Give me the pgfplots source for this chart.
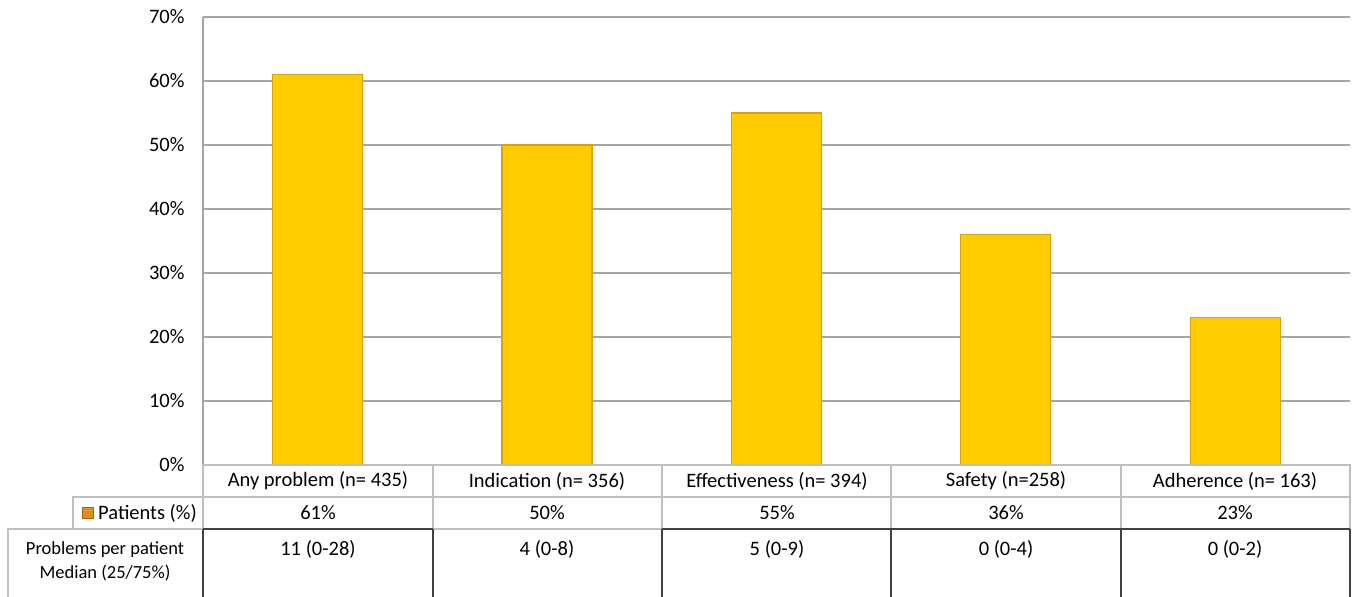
\documentclass[border=0pt]{standalone}
\usepackage{pgfplots}
\pgfplotsset{compat=1.18}
\usepackage{fontspec}
\setmainfont{Carlito}
\definecolor{barfill}{HTML}{FFCC00}
\definecolor{baredge}{HTML}{D9A400}
\definecolor{gridc}{HTML}{A6A6A6}
\definecolor{tabgray}{HTML}{BFBFBF}
\definecolor{tabdark}{HTML}{404040}
\definecolor{legsq}{HTML}{E0901E}
\begin{document}
\begin{tikzpicture}[x=1pt,y=1pt,font=\fontsize{20.5}{24}\selectfont]
\useasboundingbox (-203,-132) rectangle (1152,465);
\begin{axis}[
  at={(0,0)}, anchor=south west,
  scale only axis, width=1147pt, height=448pt,
  xmin=-0.5, xmax=4.5, ymin=0, ymax=70,
  axis x line*=bottom, x axis line style={draw=none}, xtick=\empty,
  axis y line*=left, y axis line style={draw=gridc, line width=1.2pt, -},
  ytick={0,10,...,70},
  yticklabel={\pgfmathprintnumber{\tick}\%},
  yticklabel style={font=\fontsize{20.5}{24}\selectfont, xshift=-15pt},
  /pgf/number format/assume math mode=true,
  major tick length=0pt,
  ymajorgrids, grid style={draw=gridc, line width=1.5pt},
  clip=false,
]
\addplot[ybar, bar width=90pt, fill=barfill, draw=baredge, line width=1.2pt]
  coordinates {(0,61) (1,50) (2,55) (3,36) (4,23)};
\end{axis}
% table lines
\begin{scope}[draw=tabgray, line width=1.2pt]
\draw (0,0) rectangle (1147,-32);
\foreach \x in {230,459,688,918} \draw (\x,0)--(\x,-32);
\draw (-130,-32) rectangle (1147,-64);
\foreach \x in {0,230,459,688,918} \draw (\x,-32)--(\x,-64);
\draw (-195,-140)--(-195,-64)--(0,-64);
\draw (230,-64)--(459,-64);
\end{scope}
\begin{scope}[draw=tabdark, line width=1.5pt]
\foreach \x in {0,230,459,688,918,1147} \draw (\x,-64)--(\x,-140);
\draw (0,-64)--(230,-64);
\draw (459,-64)--(1147,-64);
\end{scope}
% table text
\node at (115,-16) {Any problem (n= 435)};
\node at (344,-16) {Indication (n= 356)};
\node at (574,-16) {Effectiveness (n= 394)};
\node at (803,-16) {Safety (n=258)};
\node at (1032,-16) {Adherence (n= 163)};
\node at (115,-48) {61\%};
\node at (344,-48) {50\%};
\node at (574,-48) {55\%};
\node at (803,-48) {36\%};
\node at (1032,-48) {23\%};
\node at (115,-84) {11 (0-28)};
\node at (344,-84) {4 (0-8)};
\node at (574,-84) {5 (0-9)};
\node at (803,-84) {0 (0-4)};
\node at (1032,-84) {0 (0-2)};
\node[anchor=east, inner sep=0pt] (pl) at (-6,-48) {Patients (\%)};
\fill[legsq, draw=legsq!70!black, line width=0.4pt] ([xshift=-16pt,yshift=-5.5pt]pl.west) rectangle ++(11,11);
\node[align=center, font=\fontsize{18.5}{24}\selectfont] at (-98,-96) {Problems per patient\\Median (25/75\%)};
\end{tikzpicture}
\end{document}
